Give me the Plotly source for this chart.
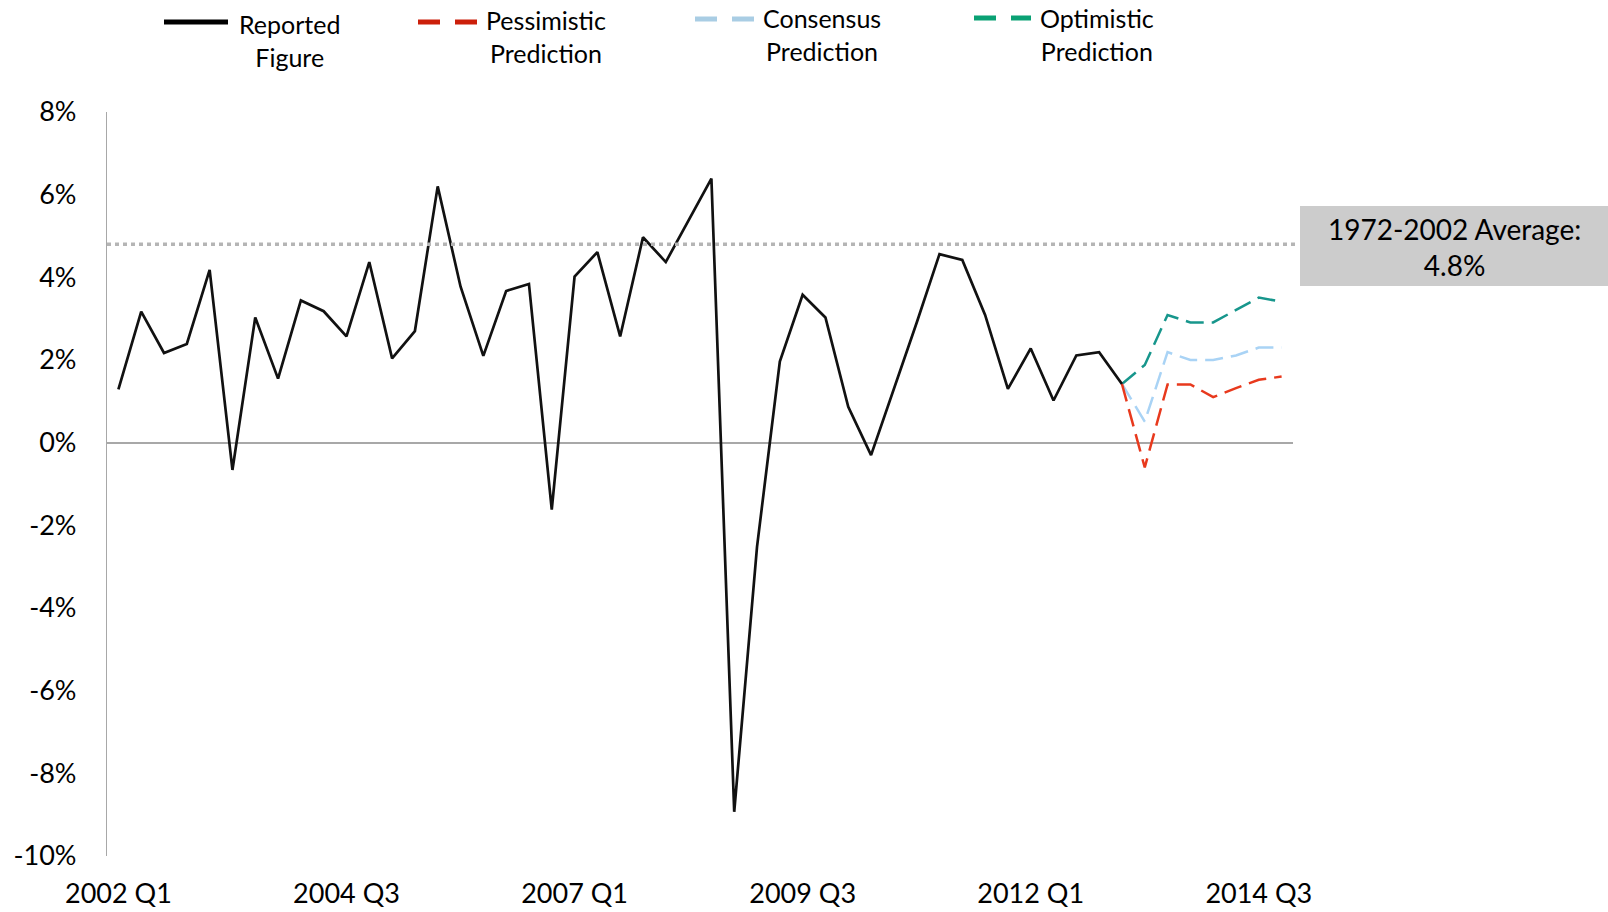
"""Quarterly growth: reported figures and three predictions"""

import plotly.graph_objects as go

quarters = [f"{year} Q{q}" for year in range(2002, 2015) for q in range(1, 5)]
tick_quarters = ["2002 Q1", "2004 Q3", "2007 Q1", "2009 Q3", "2012 Q1", "2014 Q3"]

reported = [
    1.29, 3.17, 2.17, 2.39, 4.18, -0.66, 3.03, 1.55, 3.44, 3.18,
    2.57, 4.37, 2.04, 2.70, 6.20, 3.78, 2.10, 3.67, 3.84, -1.62,
    4.02, 4.61, 2.57, 4.97, 4.37, 5.37, 6.39, -8.93, -2.52, 1.96,
    3.58, 3.03, 0.87, -0.30, 1.30, 2.90, 4.56, 4.42, 3.09, 1.30,
    2.28, 1.02, 2.11, 2.19, 1.42,
]
pessimistic = [1.42, -0.60, 1.41, 1.41, 1.10, 1.32, 1.52, 1.60]
consensus = [1.42, 0.51, 2.19, 2.00, 2.00, 2.11, 2.30, 2.30]
optimistic = [1.42, 1.88, 3.09, 2.91, 2.91, 3.20, 3.51, 3.41]

average_value = 4.8
average_text = "1972-2002 Average:<br>4.8%"

y_ticks = [-10, -8, -6, -4, -2, 0, 2, 4, 6, 8]
y_tick_text = [f"{v}%" for v in y_ticks]

font_family = "Lato, 'Open Sans', sans-serif"
color_scheme = {
    "reported": "#111111",
    "pessimistic": "#e8391d",
    "consensus": "#a9d3f5",
    "optimistic": "#17968c",
    "axis": "#a8a8a8",
    "average": "#b5b5b5",
    "box": "#cccccc",
}
legend_colors = {
    "reported": "#000000",
    "pessimistic": "#cc1f0a",
    "consensus": "#a9cde4",
    "optimistic": "#0aa174",
}

# plot area in pixels (used to place the hand-made legend and the note box)
W, H = 1608, 912
L, R, T, B = 107, 1293, 112, 856


def px_x(px: float) -> float:
    return (px - L) / (R - L)


def px_y(py: float) -> float:
    return (B - py) / (B - T)


figure = go.Figure()

prediction_x = quarters[len(reported) - 1: len(reported) - 1 + len(consensus)]
for key, values in [("optimistic", optimistic), ("consensus", consensus), ("pessimistic", pessimistic)]:
    figure.add_trace(go.Scatter(
        x=prediction_x,
        y=values,
        mode="lines",
        name=key.capitalize(),
        line={"color": color_scheme[key], "width": 2.5, "dash": "18px,8px"},
        showlegend=False,
    ))

figure.add_trace(go.Scatter(
    x=quarters[:len(reported)],
    y=reported,
    mode="lines",
    name="Reported Figure",
    line={"color": color_scheme["reported"], "width": 2.7},
    showlegend=False,
))

# long-run average reference line and its label box
figure.add_shape(type="line", xref="paper", yref="y", x0=0, x1=px_x(1298),
                 y0=average_value, y1=average_value,
                 line={"color": color_scheme["average"], "width": 3.5, "dash": "4px,4px"})
figure.add_shape(type="rect", xref="paper", yref="paper",
                 x0=px_x(1300), x1=px_x(1620), y0=px_y(286), y1=px_y(206),
                 fillcolor=color_scheme["box"], line={"width": 0}, layer="above")
figure.add_annotation(xref="paper", yref="paper", x=px_x(1454), y=px_y(247),
                      text=average_text, showarrow=False, align="center",
                      xanchor="center", yanchor="middle",
                      font={"family": font_family, "size": 28, "color": "#000000"})

# legend drawn by hand so labels can be centred on two lines
legend_items = [
    ("reported", "Reported<br>Figure", "solid", 164, 228, 22, 289, 40),
    ("pessimistic", "Pessimistic<br>Prediction", "22px,15px", 418, 477, 22, 546, 37),
    ("consensus", "Consensus<br>Prediction", "22px,15px", 695, 754, 19, 822, 35),
    ("optimistic", "Optimistic<br>Prediction", "22px,15px", 974, 1031, 18, 1097, 34),
]
for key, label, dash, x0, x1, y_line, x_text, y_text in legend_items:
    figure.add_shape(type="line", xref="paper", yref="paper",
                     x0=px_x(x0), x1=px_x(x1), y0=px_y(y_line), y1=px_y(y_line),
                     line={"color": legend_colors[key], "width": 5, "dash": dash})
    figure.add_annotation(xref="paper", yref="paper", x=px_x(x_text), y=px_y(y_text),
                          text=label, showarrow=False, align="center",
                          xanchor="center", yanchor="middle",
                          font={"family": font_family, "size": 25, "color": "#000000"})

figure.update_layout(
    width=W,
    height=H,
    template="none",
    paper_bgcolor="white",
    plot_bgcolor="white",
    margin={"l": L, "r": W - R, "t": T, "b": H - B},
    font={"family": font_family, "size": 26, "color": "#000000"},
    showlegend=False,
    xaxis={
        "type": "category",
        "categoryorder": "array",
        "categoryarray": quarters,
        "range": [-0.5, len(quarters) - 0.5],
        "tickvals": tick_quarters,
        "ticktext": tick_quarters,
        "showgrid": False,
        "showline": False,
        "zeroline": False,
        "ticks": "",
        "ticklabelstandoff": 19,
        "tickfont": {"size": 27},
        "automargin": False,
    },
    yaxis={
        "range": [-10, 8],
        "tickvals": y_ticks,
        "ticktext": y_tick_text,
        "showgrid": False,
        "showline": True,
        "linecolor": color_scheme["axis"],
        "linewidth": 1.2,
        "zeroline": True,
        "zerolinecolor": color_scheme["axis"],
        "zerolinewidth": 1.5,
        "ticks": "",
        "ticklabelstandoff": 24,
        "tickfont": {"size": 27},
        "automargin": False,
    },
)

# the page's default body margin would push the figure off the window
figure.write_html(
    "out.html",
    config={"displayModeBar": False},
    post_script="document.body.style.margin='0';document.body.style.overflow='hidden';",
)
